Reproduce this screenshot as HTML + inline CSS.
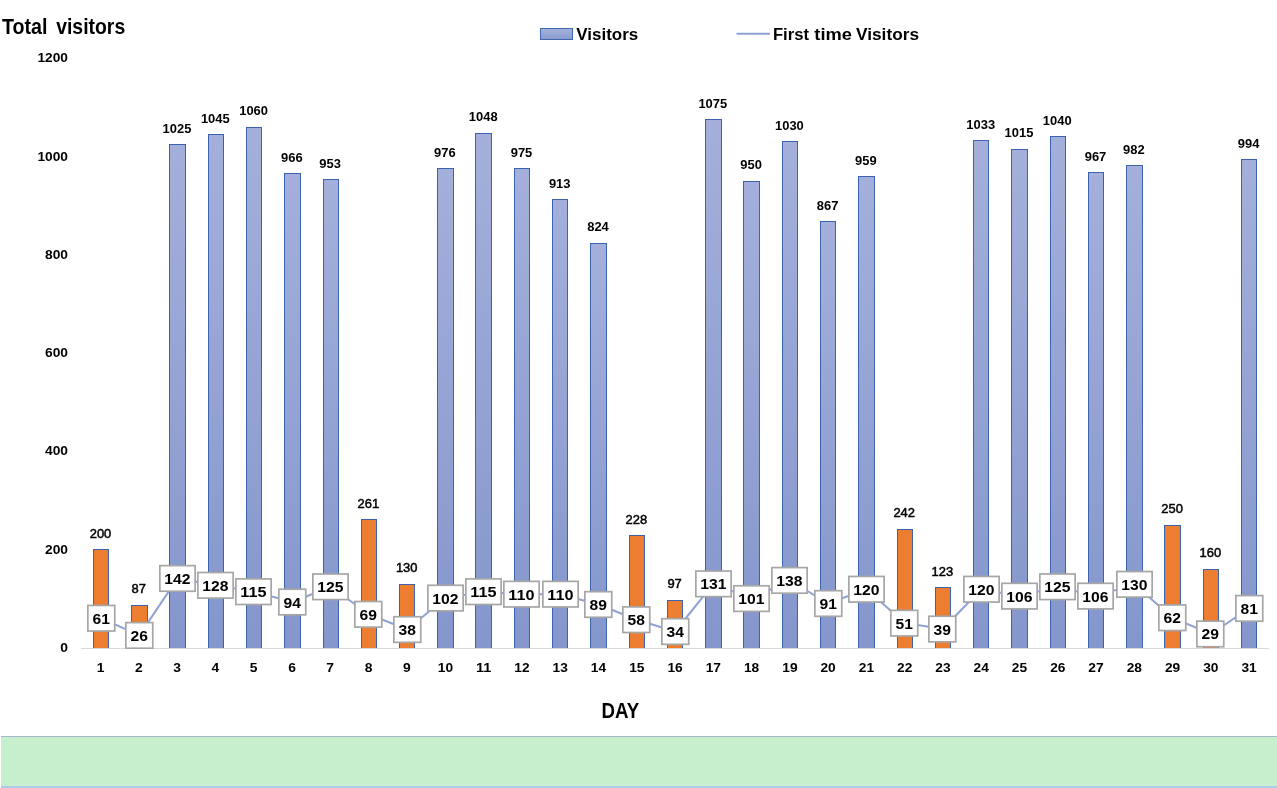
<!DOCTYPE html>
<html lang="en"><head><meta charset="utf-8"><title>Total visitors</title>
<style>html,body{margin:0;padding:0;background:#fff;}body{width:1277px;height:788px;overflow:hidden;}svg{display:block;}text{font-family:"Liberation Sans", sans-serif;font-weight:bold;fill:#000;}.dl{font-weight:normal;stroke:#000;stroke-width:0.45px;}</style></head><body>
<svg width="1277" height="788" viewBox="0 0 1277 788">
<defs><linearGradient id="gb" x1="0" y1="0" x2="0" y2="1"><stop offset="0" stop-color="#a4b0db"/><stop offset="1" stop-color="#8496cc"/></linearGradient><linearGradient id="gl" x1="0" y1="0" x2="0" y2="1"><stop offset="0" stop-color="#a6b2dc"/><stop offset="1" stop-color="#8a9bcf"/></linearGradient><clipPath id="cp"><rect x="0" y="0" width="1277" height="649"/></clipPath></defs>
<rect width="1277" height="788" fill="#fff"/>
<rect x="1" y="736" width="1276" height="1" fill="#a9b4ce"/>
<rect x="1" y="737" width="1276" height="49" fill="#c6efce"/>
<rect x="1" y="786" width="1276" height="1" fill="#a9c9ec"/>
<rect x="1" y="787" width="1276" height="1" fill="#b0cee8"/>
<text y="34" font-size="21.2"><tspan x="2" textLength="45.5" lengthAdjust="spacingAndGlyphs">Total</tspan> <tspan x="56.2" textLength="69" lengthAdjust="spacingAndGlyphs">visitors</tspan></text>
<rect x="540.5" y="28.5" width="32" height="11" fill="url(#gl)" stroke="#3f66b0" stroke-width="1"/>
<text x="576.3" y="40" font-size="17.2" textLength="62" lengthAdjust="spacingAndGlyphs">Visitors</text>
<line x1="736.5" y1="33.8" x2="770" y2="33.8" stroke="#8fa2d6" stroke-width="2"/>
<text y="40" font-size="17.2"><tspan x="772.9" textLength="36.1" lengthAdjust="spacingAndGlyphs">First</tspan> <tspan x="814.3" textLength="37.6" lengthAdjust="spacingAndGlyphs">time</tspan> <tspan x="856" textLength="63" lengthAdjust="spacingAndGlyphs">Visitors</tspan></text>
<rect x="81" y="648" width="1188" height="1" fill="#d9d9d9"/>
<text x="68" y="652" font-size="12.2" text-anchor="end" textLength="7.7" lengthAdjust="spacingAndGlyphs">0</text>
<text x="68" y="554" font-size="12.2" text-anchor="end" textLength="23.0" lengthAdjust="spacingAndGlyphs">200</text>
<text x="68" y="455" font-size="12.2" text-anchor="end" textLength="23.0" lengthAdjust="spacingAndGlyphs">400</text>
<text x="68" y="357" font-size="12.2" text-anchor="end" textLength="23.0" lengthAdjust="spacingAndGlyphs">600</text>
<text x="68" y="259" font-size="12.2" text-anchor="end" textLength="23.0" lengthAdjust="spacingAndGlyphs">800</text>
<text x="68" y="161" font-size="12.2" text-anchor="end" textLength="30.6" lengthAdjust="spacingAndGlyphs">1000</text>
<text x="68" y="62" font-size="12.2" text-anchor="end" textLength="30.6" lengthAdjust="spacingAndGlyphs">1200</text>
<rect x="93" y="549" width="16" height="99" fill="#3c64ae"/>
<rect x="94" y="550" width="14" height="98" fill="#ed7d31"/>
<text class="dl" x="100.5" y="538" font-size="12.2" text-anchor="middle" textLength="21.6" lengthAdjust="spacingAndGlyphs">200</text>
<rect x="131" y="605" width="17" height="43" fill="#3c64ae"/>
<rect x="132" y="606" width="15" height="42" fill="#ed7d31"/>
<text class="dl" x="138.8" y="593" font-size="12.2" text-anchor="middle" textLength="14.4" lengthAdjust="spacingAndGlyphs">87</text>
<rect x="169" y="144" width="17" height="504" fill="#3c64ae"/>
<rect x="170" y="145" width="15" height="503" fill="url(#gb)"/>
<text x="177.0" y="133" font-size="12.2" text-anchor="middle" textLength="28.8" lengthAdjust="spacingAndGlyphs">1025</text>
<rect x="208" y="134" width="16" height="514" fill="#3c64ae"/>
<rect x="209" y="135" width="14" height="513" fill="url(#gb)"/>
<text x="215.3" y="123" font-size="12.2" text-anchor="middle" textLength="28.8" lengthAdjust="spacingAndGlyphs">1045</text>
<rect x="246" y="127" width="16" height="521" fill="#3c64ae"/>
<rect x="247" y="128" width="14" height="520" fill="url(#gb)"/>
<text x="253.6" y="115" font-size="12.2" text-anchor="middle" textLength="28.8" lengthAdjust="spacingAndGlyphs">1060</text>
<rect x="284" y="173" width="17" height="475" fill="#3c64ae"/>
<rect x="285" y="174" width="15" height="474" fill="url(#gb)"/>
<text x="291.9" y="162" font-size="12.2" text-anchor="middle" textLength="21.6" lengthAdjust="spacingAndGlyphs">966</text>
<rect x="323" y="179" width="16" height="469" fill="#3c64ae"/>
<rect x="324" y="180" width="14" height="468" fill="url(#gb)"/>
<text x="330.1" y="168" font-size="12.2" text-anchor="middle" textLength="21.6" lengthAdjust="spacingAndGlyphs">953</text>
<rect x="361" y="519" width="16" height="129" fill="#3c64ae"/>
<rect x="362" y="520" width="14" height="128" fill="#ed7d31"/>
<text class="dl" x="368.4" y="508" font-size="12.2" text-anchor="middle" textLength="21.6" lengthAdjust="spacingAndGlyphs">261</text>
<rect x="399" y="584" width="16" height="64" fill="#3c64ae"/>
<rect x="400" y="585" width="14" height="63" fill="#ed7d31"/>
<text class="dl" x="406.7" y="572" font-size="12.2" text-anchor="middle" textLength="21.6" lengthAdjust="spacingAndGlyphs">130</text>
<rect x="437" y="168" width="17" height="480" fill="#3c64ae"/>
<rect x="438" y="169" width="15" height="479" fill="url(#gb)"/>
<text x="444.9" y="157" font-size="12.2" text-anchor="middle" textLength="21.6" lengthAdjust="spacingAndGlyphs">976</text>
<rect x="475" y="133" width="17" height="515" fill="#3c64ae"/>
<rect x="476" y="134" width="15" height="514" fill="url(#gb)"/>
<text x="483.2" y="121" font-size="12.2" text-anchor="middle" textLength="28.8" lengthAdjust="spacingAndGlyphs">1048</text>
<rect x="514" y="168" width="16" height="480" fill="#3c64ae"/>
<rect x="515" y="169" width="14" height="479" fill="url(#gb)"/>
<text x="521.5" y="157" font-size="12.2" text-anchor="middle" textLength="21.6" lengthAdjust="spacingAndGlyphs">975</text>
<rect x="552" y="199" width="16" height="449" fill="#3c64ae"/>
<rect x="553" y="200" width="14" height="448" fill="url(#gb)"/>
<text x="559.7" y="188" font-size="12.2" text-anchor="middle" textLength="21.6" lengthAdjust="spacingAndGlyphs">913</text>
<rect x="590" y="243" width="17" height="405" fill="#3c64ae"/>
<rect x="591" y="244" width="15" height="404" fill="url(#gb)"/>
<text x="598.0" y="231" font-size="12.2" text-anchor="middle" textLength="21.6" lengthAdjust="spacingAndGlyphs">824</text>
<rect x="629" y="535" width="16" height="113" fill="#3c64ae"/>
<rect x="630" y="536" width="14" height="112" fill="#ed7d31"/>
<text class="dl" x="636.3" y="524" font-size="12.2" text-anchor="middle" textLength="21.6" lengthAdjust="spacingAndGlyphs">228</text>
<rect x="667" y="600" width="16" height="48" fill="#3c64ae"/>
<rect x="668" y="601" width="14" height="47" fill="#ed7d31"/>
<text class="dl" x="674.6" y="588" font-size="12.2" text-anchor="middle" textLength="14.4" lengthAdjust="spacingAndGlyphs">97</text>
<rect x="705" y="119" width="17" height="529" fill="#3c64ae"/>
<rect x="706" y="120" width="15" height="528" fill="url(#gb)"/>
<text x="712.8" y="108" font-size="12.2" text-anchor="middle" textLength="28.8" lengthAdjust="spacingAndGlyphs">1075</text>
<rect x="743" y="181" width="17" height="467" fill="#3c64ae"/>
<rect x="744" y="182" width="15" height="466" fill="url(#gb)"/>
<text x="751.1" y="169" font-size="12.2" text-anchor="middle" textLength="21.6" lengthAdjust="spacingAndGlyphs">950</text>
<rect x="782" y="141" width="16" height="507" fill="#3c64ae"/>
<rect x="783" y="142" width="14" height="506" fill="url(#gb)"/>
<text x="789.4" y="130" font-size="12.2" text-anchor="middle" textLength="28.8" lengthAdjust="spacingAndGlyphs">1030</text>
<rect x="820" y="221" width="16" height="427" fill="#3c64ae"/>
<rect x="821" y="222" width="14" height="426" fill="url(#gb)"/>
<text x="827.6" y="210" font-size="12.2" text-anchor="middle" textLength="21.6" lengthAdjust="spacingAndGlyphs">867</text>
<rect x="858" y="176" width="17" height="472" fill="#3c64ae"/>
<rect x="859" y="177" width="15" height="471" fill="url(#gb)"/>
<text x="865.9" y="165" font-size="12.2" text-anchor="middle" textLength="21.6" lengthAdjust="spacingAndGlyphs">959</text>
<rect x="897" y="529" width="16" height="119" fill="#3c64ae"/>
<rect x="898" y="530" width="14" height="118" fill="#ed7d31"/>
<text class="dl" x="904.2" y="517" font-size="12.2" text-anchor="middle" textLength="21.6" lengthAdjust="spacingAndGlyphs">242</text>
<rect x="935" y="587" width="16" height="61" fill="#3c64ae"/>
<rect x="936" y="588" width="14" height="60" fill="#ed7d31"/>
<text class="dl" x="942.4" y="576" font-size="12.2" text-anchor="middle" textLength="21.6" lengthAdjust="spacingAndGlyphs">123</text>
<rect x="973" y="140" width="16" height="508" fill="#3c64ae"/>
<rect x="974" y="141" width="14" height="507" fill="url(#gb)"/>
<text x="980.7" y="129" font-size="12.2" text-anchor="middle" textLength="28.8" lengthAdjust="spacingAndGlyphs">1033</text>
<rect x="1011" y="149" width="17" height="499" fill="#3c64ae"/>
<rect x="1012" y="150" width="15" height="498" fill="url(#gb)"/>
<text x="1019.0" y="137" font-size="12.2" text-anchor="middle" textLength="28.8" lengthAdjust="spacingAndGlyphs">1015</text>
<rect x="1050" y="136" width="16" height="512" fill="#3c64ae"/>
<rect x="1051" y="137" width="14" height="511" fill="url(#gb)"/>
<text x="1057.2" y="125" font-size="12.2" text-anchor="middle" textLength="28.8" lengthAdjust="spacingAndGlyphs">1040</text>
<rect x="1088" y="172" width="16" height="476" fill="#3c64ae"/>
<rect x="1089" y="173" width="14" height="475" fill="url(#gb)"/>
<text x="1095.5" y="161" font-size="12.2" text-anchor="middle" textLength="21.6" lengthAdjust="spacingAndGlyphs">967</text>
<rect x="1126" y="165" width="17" height="483" fill="#3c64ae"/>
<rect x="1127" y="166" width="15" height="482" fill="url(#gb)"/>
<text x="1133.8" y="154" font-size="12.2" text-anchor="middle" textLength="21.6" lengthAdjust="spacingAndGlyphs">982</text>
<rect x="1164" y="525" width="17" height="123" fill="#3c64ae"/>
<rect x="1165" y="526" width="15" height="122" fill="#ed7d31"/>
<text class="dl" x="1172.1" y="513" font-size="12.2" text-anchor="middle" textLength="21.6" lengthAdjust="spacingAndGlyphs">250</text>
<rect x="1203" y="569" width="16" height="79" fill="#3c64ae"/>
<rect x="1204" y="570" width="14" height="78" fill="#ed7d31"/>
<text class="dl" x="1210.3" y="557" font-size="12.2" text-anchor="middle" textLength="21.6" lengthAdjust="spacingAndGlyphs">160</text>
<rect x="1241" y="159" width="16" height="489" fill="#3c64ae"/>
<rect x="1242" y="160" width="14" height="488" fill="url(#gb)"/>
<text x="1248.6" y="148" font-size="12.2" text-anchor="middle" textLength="21.6" lengthAdjust="spacingAndGlyphs">994</text>
<text x="100.6" y="672" font-size="12.2" text-anchor="middle" textLength="7.7" lengthAdjust="spacingAndGlyphs">1</text>
<text x="138.9" y="672" font-size="12.2" text-anchor="middle" textLength="7.7" lengthAdjust="spacingAndGlyphs">2</text>
<text x="177.1" y="672" font-size="12.2" text-anchor="middle" textLength="7.7" lengthAdjust="spacingAndGlyphs">3</text>
<text x="215.4" y="672" font-size="12.2" text-anchor="middle" textLength="7.7" lengthAdjust="spacingAndGlyphs">4</text>
<text x="253.7" y="672" font-size="12.2" text-anchor="middle" textLength="7.7" lengthAdjust="spacingAndGlyphs">5</text>
<text x="292.0" y="672" font-size="12.2" text-anchor="middle" textLength="7.7" lengthAdjust="spacingAndGlyphs">6</text>
<text x="330.2" y="672" font-size="12.2" text-anchor="middle" textLength="7.7" lengthAdjust="spacingAndGlyphs">7</text>
<text x="368.5" y="672" font-size="12.2" text-anchor="middle" textLength="7.7" lengthAdjust="spacingAndGlyphs">8</text>
<text x="406.8" y="672" font-size="12.2" text-anchor="middle" textLength="7.7" lengthAdjust="spacingAndGlyphs">9</text>
<text x="445.4" y="672" font-size="12.2" text-anchor="middle" textLength="15.3" lengthAdjust="spacingAndGlyphs">10</text>
<text x="483.7" y="672" font-size="12.2" text-anchor="middle" textLength="15.3" lengthAdjust="spacingAndGlyphs">11</text>
<text x="522.0" y="672" font-size="12.2" text-anchor="middle" textLength="15.3" lengthAdjust="spacingAndGlyphs">12</text>
<text x="560.2" y="672" font-size="12.2" text-anchor="middle" textLength="15.3" lengthAdjust="spacingAndGlyphs">13</text>
<text x="598.5" y="672" font-size="12.2" text-anchor="middle" textLength="15.3" lengthAdjust="spacingAndGlyphs">14</text>
<text x="636.8" y="672" font-size="12.2" text-anchor="middle" textLength="15.3" lengthAdjust="spacingAndGlyphs">15</text>
<text x="675.1" y="672" font-size="12.2" text-anchor="middle" textLength="15.3" lengthAdjust="spacingAndGlyphs">16</text>
<text x="713.3" y="672" font-size="12.2" text-anchor="middle" textLength="15.3" lengthAdjust="spacingAndGlyphs">17</text>
<text x="751.6" y="672" font-size="12.2" text-anchor="middle" textLength="15.3" lengthAdjust="spacingAndGlyphs">18</text>
<text x="789.9" y="672" font-size="12.2" text-anchor="middle" textLength="15.3" lengthAdjust="spacingAndGlyphs">19</text>
<text x="828.1" y="672" font-size="12.2" text-anchor="middle" textLength="15.3" lengthAdjust="spacingAndGlyphs">20</text>
<text x="866.4" y="672" font-size="12.2" text-anchor="middle" textLength="15.3" lengthAdjust="spacingAndGlyphs">21</text>
<text x="904.7" y="672" font-size="12.2" text-anchor="middle" textLength="15.3" lengthAdjust="spacingAndGlyphs">22</text>
<text x="942.9" y="672" font-size="12.2" text-anchor="middle" textLength="15.3" lengthAdjust="spacingAndGlyphs">23</text>
<text x="981.2" y="672" font-size="12.2" text-anchor="middle" textLength="15.3" lengthAdjust="spacingAndGlyphs">24</text>
<text x="1019.5" y="672" font-size="12.2" text-anchor="middle" textLength="15.3" lengthAdjust="spacingAndGlyphs">25</text>
<text x="1057.8" y="672" font-size="12.2" text-anchor="middle" textLength="15.3" lengthAdjust="spacingAndGlyphs">26</text>
<text x="1096.0" y="672" font-size="12.2" text-anchor="middle" textLength="15.3" lengthAdjust="spacingAndGlyphs">27</text>
<text x="1134.3" y="672" font-size="12.2" text-anchor="middle" textLength="15.3" lengthAdjust="spacingAndGlyphs">28</text>
<text x="1172.6" y="672" font-size="12.2" text-anchor="middle" textLength="15.3" lengthAdjust="spacingAndGlyphs">29</text>
<text x="1210.8" y="672" font-size="12.2" text-anchor="middle" textLength="15.3" lengthAdjust="spacingAndGlyphs">30</text>
<text x="1249.1" y="672" font-size="12.2" text-anchor="middle" textLength="15.3" lengthAdjust="spacingAndGlyphs">31</text>
<g clip-path="url(#cp)">
<polyline points="101.0,618.2 139.3,635.4 177.5,578.4 215.8,585.3 254.1,591.7 292.4,602.0 330.6,586.8 368.9,614.3 407.2,629.5 445.4,598.1 483.7,591.7 522.0,594.2 560.2,594.2 598.5,604.5 636.8,619.7 675.1,631.5 713.3,583.8 751.6,598.6 789.9,580.4 828.1,603.5 866.4,589.2 904.7,623.1 942.9,629.0 981.2,589.2 1019.5,596.1 1057.8,586.8 1096.0,596.1 1134.3,584.3 1172.6,617.7 1210.8,634.0 1249.1,608.4" fill="none" stroke="#8fa2d6" stroke-width="2" stroke-linejoin="round"/>
<rect x="87.85" y="605.43" width="26.90" height="25.60" fill="#fff" stroke="#a6a6a6" stroke-width="1.7"/>
<text x="101.2" y="624" font-size="15.3" text-anchor="middle" textLength="17.4" lengthAdjust="spacingAndGlyphs">61</text>
<rect x="125.85" y="622.63" width="26.90" height="25.60" fill="#fff" stroke="#a6a6a6" stroke-width="1.7"/>
<text x="139.2" y="641" font-size="15.3" text-anchor="middle" textLength="17.4" lengthAdjust="spacingAndGlyphs">26</text>
<rect x="159.85" y="565.64" width="35.30" height="25.60" fill="#fff" stroke="#a6a6a6" stroke-width="1.7"/>
<text x="177.4" y="584" font-size="15.3" text-anchor="middle" textLength="26.2" lengthAdjust="spacingAndGlyphs">142</text>
<rect x="197.85" y="572.51" width="35.30" height="25.60" fill="#fff" stroke="#a6a6a6" stroke-width="1.7"/>
<text x="215.4" y="591" font-size="15.3" text-anchor="middle" textLength="26.2" lengthAdjust="spacingAndGlyphs">128</text>
<rect x="235.85" y="578.90" width="35.30" height="25.60" fill="#fff" stroke="#a6a6a6" stroke-width="1.7"/>
<text x="253.4" y="597" font-size="15.3" text-anchor="middle" textLength="26.2" lengthAdjust="spacingAndGlyphs">115</text>
<rect x="278.85" y="589.22" width="26.90" height="25.60" fill="#fff" stroke="#a6a6a6" stroke-width="1.7"/>
<text x="292.2" y="608" font-size="15.3" text-anchor="middle" textLength="17.4" lengthAdjust="spacingAndGlyphs">94</text>
<rect x="312.85" y="573.99" width="35.30" height="25.60" fill="#fff" stroke="#a6a6a6" stroke-width="1.7"/>
<text x="330.4" y="592" font-size="15.3" text-anchor="middle" textLength="26.2" lengthAdjust="spacingAndGlyphs">125</text>
<rect x="354.85" y="601.50" width="26.90" height="25.60" fill="#fff" stroke="#a6a6a6" stroke-width="1.7"/>
<text x="368.2" y="620" font-size="15.3" text-anchor="middle" textLength="17.4" lengthAdjust="spacingAndGlyphs">69</text>
<rect x="393.85" y="616.73" width="26.90" height="25.60" fill="#fff" stroke="#a6a6a6" stroke-width="1.7"/>
<text x="407.2" y="635" font-size="15.3" text-anchor="middle" textLength="17.4" lengthAdjust="spacingAndGlyphs">38</text>
<rect x="427.85" y="585.29" width="35.30" height="25.60" fill="#fff" stroke="#a6a6a6" stroke-width="1.7"/>
<text x="445.4" y="604" font-size="15.3" text-anchor="middle" textLength="26.2" lengthAdjust="spacingAndGlyphs">102</text>
<rect x="465.85" y="578.90" width="35.30" height="25.60" fill="#fff" stroke="#a6a6a6" stroke-width="1.7"/>
<text x="483.4" y="597" font-size="15.3" text-anchor="middle" textLength="26.2" lengthAdjust="spacingAndGlyphs">115</text>
<rect x="503.85" y="581.36" width="35.30" height="25.60" fill="#fff" stroke="#a6a6a6" stroke-width="1.7"/>
<text x="521.4" y="600" font-size="15.3" text-anchor="middle" textLength="26.2" lengthAdjust="spacingAndGlyphs">110</text>
<rect x="542.85" y="581.36" width="35.30" height="25.60" fill="#fff" stroke="#a6a6a6" stroke-width="1.7"/>
<text x="560.4" y="600" font-size="15.3" text-anchor="middle" textLength="26.2" lengthAdjust="spacingAndGlyphs">110</text>
<rect x="584.85" y="591.67" width="26.90" height="25.60" fill="#fff" stroke="#a6a6a6" stroke-width="1.7"/>
<text x="598.2" y="610" font-size="15.3" text-anchor="middle" textLength="17.4" lengthAdjust="spacingAndGlyphs">89</text>
<rect x="622.85" y="606.90" width="26.90" height="25.60" fill="#fff" stroke="#a6a6a6" stroke-width="1.7"/>
<text x="636.2" y="625" font-size="15.3" text-anchor="middle" textLength="17.4" lengthAdjust="spacingAndGlyphs">58</text>
<rect x="661.85" y="618.70" width="26.90" height="25.60" fill="#fff" stroke="#a6a6a6" stroke-width="1.7"/>
<text x="675.2" y="637" font-size="15.3" text-anchor="middle" textLength="17.4" lengthAdjust="spacingAndGlyphs">34</text>
<rect x="695.85" y="571.04" width="35.30" height="25.60" fill="#fff" stroke="#a6a6a6" stroke-width="1.7"/>
<text x="713.4" y="589" font-size="15.3" text-anchor="middle" textLength="26.2" lengthAdjust="spacingAndGlyphs">131</text>
<rect x="733.85" y="585.78" width="35.30" height="25.60" fill="#fff" stroke="#a6a6a6" stroke-width="1.7"/>
<text x="751.4" y="604" font-size="15.3" text-anchor="middle" textLength="26.2" lengthAdjust="spacingAndGlyphs">101</text>
<rect x="771.85" y="567.60" width="35.30" height="25.60" fill="#fff" stroke="#a6a6a6" stroke-width="1.7"/>
<text x="789.4" y="586" font-size="15.3" text-anchor="middle" textLength="26.2" lengthAdjust="spacingAndGlyphs">138</text>
<rect x="814.85" y="590.69" width="26.90" height="25.60" fill="#fff" stroke="#a6a6a6" stroke-width="1.7"/>
<text x="828.2" y="609" font-size="15.3" text-anchor="middle" textLength="17.4" lengthAdjust="spacingAndGlyphs">91</text>
<rect x="848.85" y="576.44" width="35.30" height="25.60" fill="#fff" stroke="#a6a6a6" stroke-width="1.7"/>
<text x="866.4" y="595" font-size="15.3" text-anchor="middle" textLength="26.2" lengthAdjust="spacingAndGlyphs">120</text>
<rect x="890.85" y="610.34" width="26.90" height="25.60" fill="#fff" stroke="#a6a6a6" stroke-width="1.7"/>
<text x="904.2" y="629" font-size="15.3" text-anchor="middle" textLength="17.4" lengthAdjust="spacingAndGlyphs">51</text>
<rect x="928.85" y="616.24" width="26.90" height="25.60" fill="#fff" stroke="#a6a6a6" stroke-width="1.7"/>
<text x="942.2" y="635" font-size="15.3" text-anchor="middle" textLength="17.4" lengthAdjust="spacingAndGlyphs">39</text>
<rect x="963.85" y="576.44" width="35.30" height="25.60" fill="#fff" stroke="#a6a6a6" stroke-width="1.7"/>
<text x="981.4" y="595" font-size="15.3" text-anchor="middle" textLength="26.2" lengthAdjust="spacingAndGlyphs">120</text>
<rect x="1001.85" y="583.32" width="35.30" height="25.60" fill="#fff" stroke="#a6a6a6" stroke-width="1.7"/>
<text x="1019.4" y="602" font-size="15.3" text-anchor="middle" textLength="26.2" lengthAdjust="spacingAndGlyphs">106</text>
<rect x="1039.85" y="573.99" width="35.30" height="25.60" fill="#fff" stroke="#a6a6a6" stroke-width="1.7"/>
<text x="1057.4" y="592" font-size="15.3" text-anchor="middle" textLength="26.2" lengthAdjust="spacingAndGlyphs">125</text>
<rect x="1077.85" y="583.32" width="35.30" height="25.60" fill="#fff" stroke="#a6a6a6" stroke-width="1.7"/>
<text x="1095.4" y="602" font-size="15.3" text-anchor="middle" textLength="26.2" lengthAdjust="spacingAndGlyphs">106</text>
<rect x="1116.85" y="571.53" width="35.30" height="25.60" fill="#fff" stroke="#a6a6a6" stroke-width="1.7"/>
<text x="1134.4" y="590" font-size="15.3" text-anchor="middle" textLength="26.2" lengthAdjust="spacingAndGlyphs">130</text>
<rect x="1158.85" y="604.94" width="26.90" height="25.60" fill="#fff" stroke="#a6a6a6" stroke-width="1.7"/>
<text x="1172.2" y="623" font-size="15.3" text-anchor="middle" textLength="17.4" lengthAdjust="spacingAndGlyphs">62</text>
<rect x="1196.85" y="621.15" width="26.90" height="25.60" fill="#fff" stroke="#a6a6a6" stroke-width="1.7"/>
<text x="1210.2" y="639" font-size="15.3" text-anchor="middle" textLength="17.4" lengthAdjust="spacingAndGlyphs">29</text>
<rect x="1235.85" y="595.60" width="26.90" height="25.60" fill="#fff" stroke="#a6a6a6" stroke-width="1.7"/>
<text x="1249.2" y="614" font-size="15.3" text-anchor="middle" textLength="17.4" lengthAdjust="spacingAndGlyphs">81</text>
</g>
<text x="601.5" y="718" font-size="21.4" textLength="37.8" lengthAdjust="spacingAndGlyphs">DAY</text>
</svg></body></html>
